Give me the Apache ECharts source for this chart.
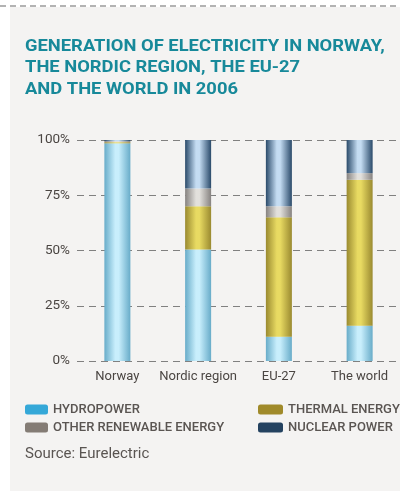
<!DOCTYPE html>
<html><head><meta charset="utf-8">
<script src="https://cdn.jsdelivr.net/npm/echarts@6/dist/echarts.min.js"></script>
<style>html,body{margin:0;padding:0;background:#fff}#c{width:400px;height:491px}</style>
</head><body><div id="c"></div>
<script>
const categories = ['Norway', 'Nordic region', 'EU-27', 'The world'];
const hydropower = [98.5, 50.5, 11, 16];
const thermal = [0.5, 19.5, 54, 66];
const otherRenewable = [0.5, 8, 5, 3];
const nuclear = [0.5, 22, 30, 15];
const yTicks = [0, 25, 50, 75, 100];

const FONT = 'Roboto, "Liberation Sans", sans-serif';
function grad(edge, mid) {
  return { type: 'linear', x: 0, y: 0, x2: 1, y2: 0,
    colorStops: [ {offset: 0, color: edge}, {offset: 0.42, color: mid}, {offset: 0.55, color: mid}, {offset: 1, color: edge} ] };
}
const chart = echarts.init(document.getElementById('c'), null, {renderer: 'canvas'});
const mk = (name, data, edge, mid) => ({
  name, type: 'bar', stack: 'a', data, barWidth: 26,
  itemStyle: { color: grad(edge, mid) }
});
const legendText = { color: '#5a5552', fontSize: 13, fontWeight: 500, fontFamily: FONT };
chart.setOption({
  animation: false,
  backgroundColor: '#ffffff',
  graphic: [
    { type: 'rect', left: 10, top: 7, shape: { width: 390, height: 484 }, style: { fill: '#f4f3f2' }, z: -10 },
    { type: 'line', shape: { x1: 0, y1: 6, x2: 400, y2: 6 }, style: { stroke: '#9a9a9a', lineWidth: 1.5, lineDash: [6, 4] }, z: -5 },
    { type: 'text', x: 25, y: 36, scaleX: 1.08, style: { text: 'GENERATION OF ELECTRICITY IN NORWAY,\nTHE NORDIC REGION, THE EU-27\nAND THE WORLD IN 2006', fill: '#17899a', font: 'bold 17px ' + FONT, lineHeight: 21.3 } },
    { type: 'text', left: 25, top: 447, style: { text: 'Source: Eurelectric', fill: '#5a5552', font: '15px ' + FONT } }
  ],
  legend: [
    { orient: 'vertical', left: 25, top: 403, padding: 0, itemWidth: 23, itemHeight: 10, itemGap: 5, textStyle: legendText,
      data: [ { name: 'HYDROPOWER', itemStyle: { color: '#35a8d8' } },
              { name: 'OTHER RENEWABLE ENERGY', itemStyle: { color: '#847c75' } } ] },
    { orient: 'vertical', left: 258, top: 403, padding: 0, itemWidth: 25, itemHeight: 10, itemGap: 5, textStyle: legendText,
      data: [ { name: 'THERMAL ENERGY', itemStyle: { color: '#a08a2a' } },
              { name: 'NUCLEAR POWER', itemStyle: { color: '#244260' } } ] }
  ],
  grid: { left: 77, right: -3, top: 140, bottom: 130 },
  xAxis: { type: 'category', data: categories,
    axisLine: { show: false }, axisTick: { show: false },
    axisLabel: { interval: 0, color: '#4a4542', fontSize: 13, fontFamily: FONT, margin: 9 } },
  yAxis: { type: 'value', min: yTicks[0], max: yTicks[yTicks.length - 1], interval: 25,
    axisLine: { show: false }, axisTick: { show: false },
    axisLabel: { formatter: '{value}%', color: '#4a4542', fontSize: 13.5, fontFamily: FONT, margin: 7, padding: [7, 0, 0, 0] },
    splitLine: { lineStyle: { color: '#808080', type: [7, 5], width: 1 } } },
  series: [
    mk('HYDROPOWER', hydropower, '#68acc9', '#c8eefc'),
    mk('THERMAL ENERGY', thermal, '#9a8a30', '#e8da62'),
    mk('OTHER RENEWABLE ENERGY', otherRenewable, '#868280', '#e2e0dc'),
    mk('NUCLEAR POWER', nuclear, '#2a4a6a', '#c4dcf2')
  ]
});
</script></body></html>
